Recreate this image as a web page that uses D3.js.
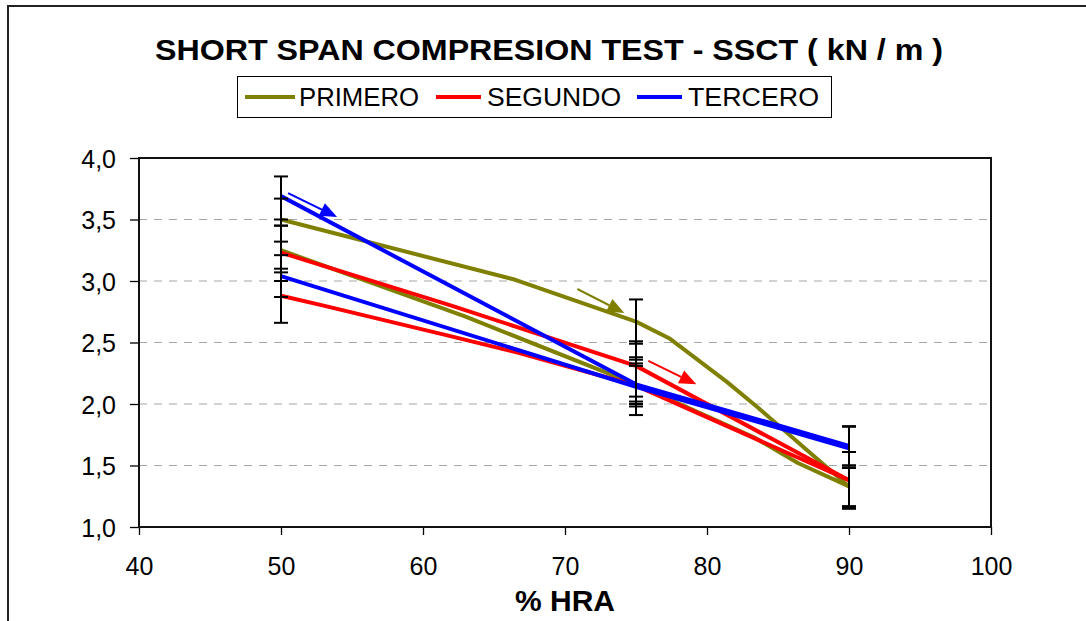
<!DOCTYPE html>
<html>
<head>
<meta charset="utf-8">
<script src="https://cdn.jsdelivr.net/npm/d3@7"></script>
<style>
  html, body { margin: 0; padding: 0; background: #fff; }
  svg { display: block; font-family: "Liberation Sans", Arial, sans-serif; }
</style>
</head>
<body>
<div id="chart"></div>
<script>
// SSCT vs %HRA — three runs, two curves each, with error bars at 50 / 75 / 90

const xTicks = [40, 50, 60, 70, 80, 90, 100];
const yTicks = [1.0, 1.5, 2.0, 2.5, 3.0, 3.5, 4.0];

const seriesNames = ['PRIMERO', 'SEGUNDO', 'TERCERO'];
const seriesColors = ['#808000', '#ff0000', '#0000ff'];

// [%HRA, kN/m]
const primeroA = [[50, 3.50], [66.5, 3.01], [75, 2.67], [77.4, 2.53], [81.4, 2.18], [83.6, 1.97], [90, 1.33]];
const primeroB = [[50, 3.25], [63, 2.71], [75, 2.16], [83.3, 1.73], [86.4, 1.52], [90, 1.33]];
const segundoA = [[50, 3.23], [62, 2.80], [75, 2.31], [90, 1.38]];
const segundoB = [[50, 2.88], [53, 2.80], [62, 2.55], [66.6, 2.42], [75, 2.15], [90, 1.38]];
const terceroA = [[50, 3.69], [75, 2.16], [90, 1.66]];
const terceroB = [[50, 3.04], [75, 2.14], [90, 1.64]];

// error bars: [%HRA, low, high]
const errPrimero = [[50, 3.32, 3.67], [50, 3.07, 3.45], [75, 2.49, 2.85], [75, 1.91, 2.38], [90, 1.17, 1.50], [90, 1.16, 1.50]];
const errSegundo = [[50, 3.00, 3.45], [50, 2.66, 3.10], [75, 2.06, 2.51], [75, 1.98, 2.36], [90, 1.15, 1.61], [90, 1.15, 1.61]];
const errTercero = [[50, 3.50, 3.85], [50, 2.87, 3.21], [75, 2.00, 2.33], [75, 2.02, 2.31], [90, 1.48, 1.82], [90, 1.48, 1.815]];

// direction arrows: [from x, from y, to x, to y, series]
const arrows = [
  [50.5, 3.715, 53.95, 3.52, 2],
  [70.87, 2.935, 74.18, 2.74, 0],
  [75.87, 2.35, 79.25, 2.16, 1]
];

const W = 1086, H = 621;
const PLOT = { left: 139, right: 991, top: 158, bottom: 527 };

const svg = d3.select('#chart').append('svg')
  .attr('width', W).attr('height', H);

// outer chart border (runs off the right / bottom edge)
svg.append('rect')
  .attr('x', 8).attr('y', 6)
  .attr('width', W + 20).attr('height', H + 20)
  .attr('fill', '#fff')
  .attr('stroke', '#222').attr('stroke-width', 2);

svg.append('text')
  .attr('x', 549).attr('y', 60)
  .attr('text-anchor', 'middle')
  .attr('font-size', 30).attr('font-weight', 'bold')
  .attr('textLength', 788).attr('lengthAdjust', 'spacingAndGlyphs')
  .text('SHORT SPAN COMPRESION TEST - SSCT ( kN / m )');

// legend
const leg = svg.append('g');
leg.append('rect')
  .attr('x', 237.5).attr('y', 76.5)
  .attr('width', 594).attr('height', 41)
  .attr('fill', '#fff').attr('stroke', '#000').attr('stroke-width', 1);
const legItems = [
  { x0: 245, x1: 295, tx: 299, tw: 120 },
  { x0: 436, x1: 481, tx: 487, tw: 134 },
  { x0: 637, x1: 682, tx: 688, tw: 131 }
];
legItems.forEach((it, i) => {
  leg.append('line')
    .attr('x1', it.x0).attr('x2', it.x1)
    .attr('y1', 97).attr('y2', 97)
    .attr('stroke', seriesColors[i]).attr('stroke-width', 4);
  leg.append('text')
    .attr('x', it.tx).attr('y', 106)
    .attr('font-size', 26)
    .attr('textLength', it.tw).attr('lengthAdjust', 'spacingAndGlyphs')
    .text(seriesNames[i]);
});

const x = d3.scaleLinear().domain([40, 100]).range([PLOT.left, PLOT.right]);
const y = d3.scaleLinear().domain([1, 4]).range([PLOT.bottom, PLOT.top]);

// gridlines
svg.append('g')
  .selectAll('line')
  .data(yTicks.filter(d => d > 1 && d < 4))
  .join('line')
  .attr('x1', PLOT.left).attr('x2', PLOT.right)
  .attr('y1', d => y(d)).attr('y2', d => y(d))
  .attr('stroke', '#a6a6a6').attr('stroke-width', 1.2)
  .attr('stroke-dasharray', '8,7');

// axes
const fmt = d => d.toFixed(1).replace('.', ',');
const yAxis = svg.append('g')
  .attr('transform', `translate(${PLOT.left},0)`)
  .call(d3.axisLeft(y).tickValues(yTicks).tickFormat(fmt).tickSize(9).tickPadding(14));
const xAxis = svg.append('g')
  .attr('transform', `translate(0,${PLOT.bottom})`)
  .call(d3.axisBottom(x).tickValues(xTicks).tickFormat(d3.format('d')).tickSize(8));
[yAxis, xAxis].forEach(a => {
  a.select('.domain').remove();
  a.selectAll('.tick line').attr('stroke', '#000').attr('stroke-width', 1.3);
  a.selectAll('.tick text')
    .attr('font-family', '"Liberation Sans", Arial, sans-serif')
    .attr('font-size', 25).attr('fill', '#000');
});
xAxis.selectAll('.tick text').attr('y', 48).attr('dy', 0);
yAxis.selectAll('.tick text').attr('dy', '0.36em');

// plot area frame
svg.append('rect')
  .attr('x', PLOT.left).attr('y', PLOT.top)
  .attr('width', PLOT.right - PLOT.left).attr('height', PLOT.bottom - PLOT.top)
  .attr('fill', 'none').attr('stroke', '#111').attr('stroke-width', 2);

svg.append('text')
  .attr('x', 565).attr('y', 611)
  .attr('text-anchor', 'middle')
  .attr('font-size', 30).attr('font-weight', 'bold')
  .text('% HRA');

// curves
const line = d3.line().x(d => x(d[0])).y(d => y(d[1]));
const curves = [
  [primeroA, 0], [primeroB, 0],
  [segundoA, 1], [segundoB, 1],
  [terceroA, 2], [terceroB, 2]
];
svg.append('g')
  .selectAll('path')
  .data(curves)
  .join('path')
  .attr('d', d => line(d[0]))
  .attr('fill', 'none')
  .attr('stroke', d => seriesColors[d[1]])
  .attr('stroke-width', 4)
  .attr('stroke-linejoin', 'round');

// error bars
const errs = [...errPrimero, ...errSegundo, ...errTercero];
const eg = svg.append('g').attr('stroke', '#000').attr('stroke-width', 2);
errs.forEach(([hx, lo, hi]) => {
  eg.append('line')
    .attr('x1', x(hx)).attr('x2', x(hx))
    .attr('y1', y(lo)).attr('y2', y(hi));
  [lo, hi].forEach(v => {
    eg.append('line')
      .attr('x1', x(hx) - 7).attr('x2', x(hx) + 7)
      .attr('y1', y(v)).attr('y2', y(v));
  });
});

// arrows
const ag = svg.append('g');
arrows.forEach(([x0, y0, x1, y1, ci]) => {
  const px0 = x(x0), py0 = y(y0), px1 = x(x1), py1 = y(y1);
  const ang = Math.atan2(py1 - py0, px1 - px0);
  const len = 17, half = 7;
  const bx = px1 - len * Math.cos(ang), by = py1 - len * Math.sin(ang);
  ag.append('line')
    .attr('x1', px0).attr('y1', py0).attr('x2', bx).attr('y2', by)
    .attr('stroke', seriesColors[ci]).attr('stroke-width', 2);
  const nx = -Math.sin(ang), ny = Math.cos(ang);
  ag.append('path')
    .attr('d', `M${px1},${py1}L${bx + nx * half},${by + ny * half}L${bx - nx * half},${by - ny * half}Z`)
    .attr('fill', seriesColors[ci]);
});
</script>
</body>
</html>
